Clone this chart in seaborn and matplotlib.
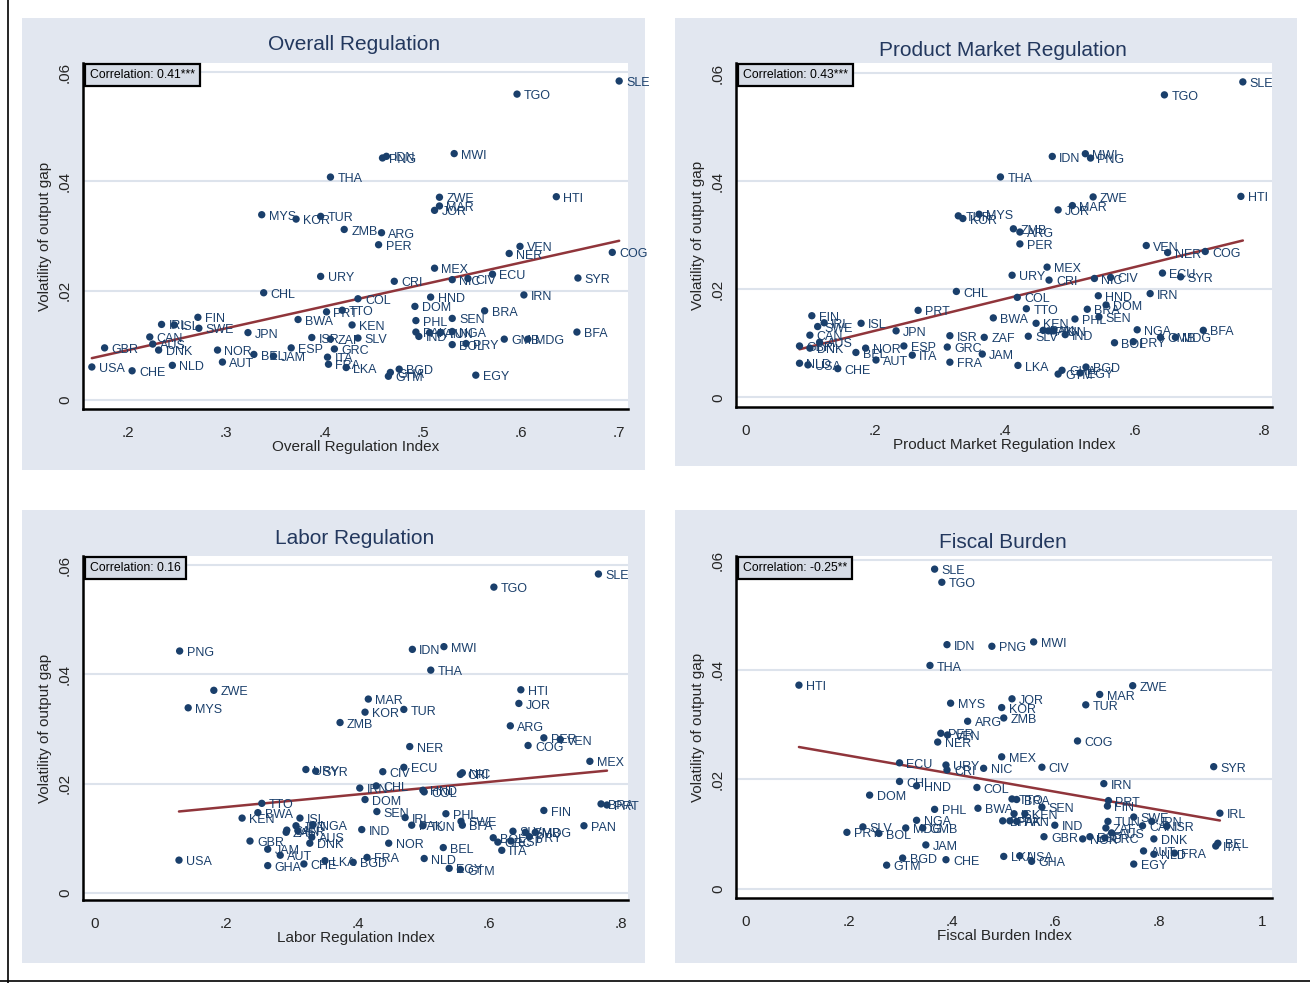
import numpy as np
import pandas as pd
import matplotlib
matplotlib.use('Agg')
import matplotlib.pyplot as plt
from matplotlib.patches import Rectangle
from matplotlib.lines import Line2D
import seaborn as sns

# country codes (same order in every list below)
countries = ['SLE', 'TGO', 'IDN', 'PNG', 'MWI', 'THA', 'ZWE', 'MAR', 'JOR', 'HTI',
             'MYS', 'KOR', 'TUR', 'ZMB', 'ARG', 'PER', 'VEN', 'NER', 'COG', 'MEX',
             'ECU', 'CIV', 'NIC', 'CRI', 'URY', 'SYR', 'CHL', 'IRN', 'COL', 'HND',
             'DOM', 'TTO', 'PRT', 'BRA', 'FIN', 'IRL', 'ISL', 'SWE', 'BWA', 'KEN',
             'JPN', 'CAN', 'AUS', 'GBR', 'DNK', 'NOR', 'BEL', 'JAM', 'ESP', 'ISR',
             'ZAF', 'SLV', 'GRC', 'ITA', 'FRA', 'LKA', 'AUT', 'USA', 'CHE', 'NLD',
             'PHL', 'PAK', 'IND', 'TUN', 'NGA', 'SEN', 'BOL', 'PRY', 'GMB', 'MDG',
             'BFA', 'BGD', 'GHA', 'GTM', 'EGY', 'PAN']

volatility = [.0584, .0560, .0446, .0443, .0451, .0408, .0371, .0355, .0347, .0372,
              .0339, .0331, .0336, .0312, .0306, .0284, .0281, .0268, .0270, .0241,
              .0230, .0222, .0220, .0217, .0226, .0223, .0196, .0192, .0185, .0188,
              .0171, .0164, .0161, .0163, .0151, .0138, .0137, .0131, .0147, .0137,
              .0123, .0115, .0102, .0095, .0091, .0091, .0083, .0080, .0095, .0114,
              .0111, .0113, .0093, .0078, .0065, .0059, .0069, .0060, .0053, .0063,
              .0145, .0124, .0116, .0123, .0125, .0149, .0101, .0103, .0111, .0111,
              .0124, .0056, .0050, .0043, .0045, .0123]

overall = [.700, .596, .463, .459, .532, .406, .517, .517, .512, .636,
           .336, .371, .396, .420, .458, .455, .599, .588, .693, .512,
           .571, .546, .530, .471, .396, .658, .338, .603, .434, .508,
           .492, .418, .402, .563, .271, .234, .247, .272, .373, .428,
           .322, .222, .225, .176, .231, .291, .328, .348, .366, .387,
           .406, .434, .410, .403, .404, .422, .296, .163, .204, .245,
           .493, .493, .496, .518, .530, .530, .530, .544, .583, .607,
           .657, .476, .467, .465, .554, .507]

product = [.767, .646, .473, .532, .524, .393, .536, .504, .482, .764,
           .360, .335, .328, .413, .423, .423, .618, .651, .709, .465,
           .643, .563, .538, .468, .411, .671, .325, .624, .419, .544,
           .556, .433, .266, .527, .102, .121, .178, .111, .382, .448,
           .232, .099, .114, .083, .099, .185, .170, .365, .244, .315,
           .368, .436, .311, .257, .315, .420, .201, .096, .142, .083,
           .508, .459, .493, .475, .604, .545, .569, .598, .640, .663,
           .706, .525, .488, .482, .516, .467]

labor = [.766, .607, .483, .129, .531, .511, .181, .416, .645, .648,
         .142, .411, .470, .373, .632, .683, .708, .479, .659, .753,
         .470, .438, .559, .556, .321, .336, .428, .403, .501, .499,
         .411, .254, .779, .770, .683, .472, .312, .557, .248, .224,
         .306, .292, .330, .236, .327, .447, .530, .263, .633, .309,
         .291, .636, .613, .619, .414, .350, .282, .128, .318, .501,
         .534, .482, .406, .499, .332, .429, .606, .661, .655, .670,
         .559, .393, .263, .556, .539, .744]

fiscal = [.366, .380, .390, .477, .558, .357, .750, .686, .516, .103,
          .397, .496, .659, .500, .430, .378, .391, .372, .643, .496,
          .298, .574, .461, .390, .388, .907, .298, .694, .448, .331,
          .240, .516, .703, .525, .701, .919, .520, .752, .450, .541,
          .787, .769, .709, .578, .791, .653, .915, .349, .667, .816,
          .698, .227, .696, .911, .831, .500, .771, .531, .388, .791,
          .366, .512, .599, .702, .331, .574, .258, .196, .343, .310,
          .498, .304, .554, .273, .752, .525]

titles = ['Overall Regulation', 'Product Market Regulation', 'Labor Regulation', 'Fiscal Burden']
xlabels = ['Overall Regulation Index', 'Product Market Regulation Index',
           'Labor Regulation Index', 'Fiscal Burden Index']
corr_text = ['Correlation: 0.41***', 'Correlation: 0.43***', 'Correlation: 0.16', 'Correlation: -0.25**']
xticks = [[.2, .3, .4, .5, .6, .7], [0, .2, .4, .6, .8], [0, .2, .4, .6, .8], [0, .2, .4, .6, .8, 1]]
xticklabels = [['.2', '.3', '.4', '.5', '.6', '.7'], ['0', '.2', '.4', '.6', '.8'],
               ['0', '.2', '.4', '.6', '.8'], ['0', '.2', '.4', '.6', '.8', '1']]
yticks = [0, .02, .04, .06]
yticklabels = ['0', '.02', '.04', '.06']

df = pd.DataFrame({'code': countries, 'vol': volatility, 'overall': overall,
                   'product': product, 'labor': labor, 'fiscal': fiscal})
xcols = ['overall', 'product', 'labor', 'fiscal']

sns.set_style('white')
plt.rcParams['font.family'] = ['Liberation Sans', 'DejaVu Sans']

NAVY = '#1a3f6b'
MAROON = '#90353b'
BG = '#e2e7f0'
GRID = '#dde3ec'

fig = plt.figure(figsize=(13.1, 9.83), dpi=100)

# panel layout in pixels: (bg left, bg top, bg right, bg bottom, ax left, ax top, ax right, ax bottom)
W, H = 1310, 983
panels = [(22, 18, 645, 470, 83, 63, 628, 409),
          (675, 18, 1297, 466, 736, 63, 1272, 407),
          (22, 510, 645, 963, 83, 556, 628, 900),
          (675, 510, 1297, 963, 736, 556, 1272, 898)]
xlims = [(.154, .709), (-.015, .812), (-.018, .811), (-.019, 1.02)]
ylims = [(-.0017, .0617), (-.0018, .0619), (-.0013, .0617), (-.0017, .0608)]
title_y = [45, 50, 538, 542]
title_dx = [21, 17, 21, 17]

for i, (bl, bt, br, bb, al, at, ar, ab) in enumerate(panels):
    fig.patches.append(Rectangle((bl / W, 1 - bb / H), (br - bl) / W, (bb - bt) / H,
                                 transform=fig.transFigure, facecolor=BG,
                                 edgecolor='none', zorder=-10))
    ax = fig.add_axes([al / W, 1 - ab / H, (ar - al) / W, (ab - at) / H])
    ax.set_zorder(1)
    ax.set_facecolor('white')
    col = xcols[i]

    for yt in yticks:
        ax.axhline(yt, color=GRID, lw=1.5, zorder=0)

    sns.regplot(data=df, x=col, y='vol', ax=ax, ci=None, scatter=False,
                truncate=True, line_kws=dict(color=MAROON, lw=1.8, zorder=2))
    sns.scatterplot(data=df, x=col, y='vol', ax=ax, color=NAVY, s=28,
                    edgecolor='none', zorder=3)
    for _, r in df.iterrows():
        ax.annotate(r['code'], (r[col], r['vol']), xytext=(5, -1.5),
                    textcoords='offset points', va='center', ha='left',
                    fontsize=9, color=NAVY, zorder=4)

    ax.set_xlim(*xlims[i])
    ax.set_ylim(*ylims[i])
    ax.set_xticks(xticks[i])
    ax.set_xticklabels(xticklabels[i], fontsize=11)
    ax.set_yticks(yticks)
    ax.set_yticklabels(yticklabels, fontsize=11, rotation=90, va='center')
    ax.tick_params(axis='x', direction='out', length=7, width=1.5, color='black', pad=5)
    ax.tick_params(axis='y', direction='out', length=5, width=1.5, color='black', pad=3)
    ax.set_xlabel(xlabels[i], fontsize=11, labelpad=0)
    ax.set_ylabel('Volatility of output gap', fontsize=11, labelpad=4)
    for s in ['top', 'right']:
        ax.spines[s].set_visible(False)
    for s in ['left', 'bottom']:
        ax.spines[s].set_color('black')
        ax.spines[s].set_linewidth(1.8)

    ax.text(0.013, 0.982, corr_text[i], transform=ax.transAxes, va='top', ha='left',
            fontsize=8.8, color='black', zorder=5,
            bbox=dict(boxstyle='square,pad=0.42', fc='#d6dce6', ec='black', lw=1.6))

    fig.text(((bl + br) / 2 + title_dx[i]) / W, 1 - title_y[i] / H, titles[i],
             ha='center', va='center', fontsize=15, color='#23385e')

# outer frame lines
fig.add_artist(Line2D([8 / W, 8 / W], [0, 1], color='black', lw=1.2, transform=fig.transFigure))
fig.add_artist(Line2D([0, 1], [2.5 / H, 2.5 / H], color='black', lw=1.2, transform=fig.transFigure))

fig.savefig('out.png', dpi=100, facecolor='white')
